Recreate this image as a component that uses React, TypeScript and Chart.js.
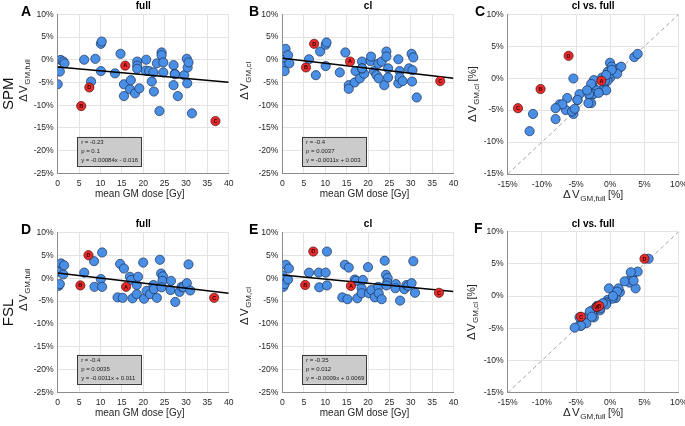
import React, { useEffect, useRef } from 'react';
import { Chart, registerables } from 'chart.js';

Chart.register(...registerables);

const FONT = "'Liberation Sans', Arial, Helvetica, sans-serif";
const INK = '#262626';

// ---------------- tick labels ----------------
const doseTicks = [0, 5, 10, 15, 20, 25, 30, 35, 40];
const pctTicks = [-25, -20, -15, -10, -5, 0, 5, 10];
const cmpTicks = [-15, -10, -5, 0, 5, 10];

// ---------------- SPM (x = mean GM dose [Gy], y = ΔV [%]) ----------------
const spmDose = [0.0, 0.2, 0.5, 0.7, 1.3, 1.6, 6.2, 7.8, 8.8, 10.1, 10.3, 10.1, 13.4, 14.7, 15.5, 15.5, 16.9, 17.1, 18.1, 19.1, 18.6, 18.6, 18.6, 20.6, 20.7, 21.4, 22.0, 22.4, 22.5, 23.2, 23.8, 24.3, 24.3, 24.7, 24.7, 27.1, 27.1, 27.4, 27.4, 28.1, 29.6, 30.2, 30.3, 30.4, 30.6, 31.4];
const spmFull = [-5.4, -2.5, -2.6, -0.05, -0.4, -0.8, 0.0, -4.8, 0.2, 3.5, 4.0, -2.5, -3.0, 1.3, -5.4, -8.0, -6.5, -4.5, -7.4, -6.3, -0.4, -1.3, -2.0, -2.4, 0.0, -2.5, -4.8, -2.8, -7.0, -0.8, -11.3, 1.6, 1.0, -0.6, -2.8, -1.2, -5.6, -3.1, -3.2, -8.0, -3.4, 0.2, -5.2, -1.7, -0.6, -11.8];
const spmCl = [-0.05, -1.5, -2.5, 2.4, 1.0, -0.8, 0.1, -3.4, 1.8, 3.3, 3.8, -1.4, -2.8, 1.6, -5.6, -6.4, -5.0, -2.5, -4.1, -3.1, -0.4, -1.9, -1.9, -0.3, 0.7, -2.5, -3.4, -0.9, -4.1, -0.4, -5.6, 1.8, 0.7, -1.9, -3.9, 0.1, -5.2, -2.5, -3.9, -4.7, -1.9, 1.3, -4.8, -2.3, 0.5, -8.3];

// highlighted subjects
const caseLabels = ['A', 'B', 'C', 'D'];
const spmCaseDose = [15.8, 5.5, 36.9, 7.4];
const spmCaseFull = [-1.3, -10.2, -13.5, -6.1];
const spmCaseCl = [-0.4, -1.7, -4.7, 3.5];

// ---------------- FSL ----------------
const fslDose = [0.0, 0.2, 0.5, 0.8, 1.3, 1.5, 6.2, 8.5, 8.6, 10.1, 10.4, 10.4, 14.0, 14.6, 15.2, 15.5, 16.9, 17.2, 17.5, 18.5, 18.5, 18.8, 20.0, 20.2, 20.8, 21.6, 22.4, 22.5, 23.2, 23.9, 24.2, 24.6, 24.5, 24.3, 26.5, 26.4, 27.5, 28.5, 29.0, 29.4, 30.2, 30.6, 31.0];
const fslFull = [1.4, -1.7, -1.3, 3.2, 0.8, 2.8, 1.2, 3.7, -1.9, -0.2, 5.6, -1.9, -4.2, 3.1, -4.3, 2.1, 0.3, -0.4, -4.4, -1.5, -3.5, 0.3, 3.4, -4.5, -2.8, -3.5, -1.5, -2.4, -4.3, 4.0, 1.0, 0.4, -0.6, -2.0, -0.6, -2.6, -5.2, -3.0, -1.9, -2.0, -1.1, 3.0, -2.7];
const fslCl = [0.6, -1.9, -1.3, 2.9, -0.3, 2.1, 1.2, 1.2, -2.0, 1.2, 5.8, -1.6, -4.2, 2.9, -4.6, 2.3, -0.3, -0.6, -4.4, -2.2, -3.3, -0.4, 2.4, -3.3, -2.6, -4.2, -1.9, -3.3, -4.6, 3.8, 0.7, 0.0, -1.0, -1.6, -1.3, -2.2, -4.9, -2.4, -1.5, -1.7, -1.1, 3.7, -3.2];

const fslCaseDose = [16.0, 5.3, 36.6, 7.2];
const fslCaseFull = [-1.9, -1.6, -4.3, 5.0];
const fslCaseCl = [-1.7, -1.5, -3.2, 5.8];

// ---------------- linear fits (panels A, B, D, E) ----------------
const fitR = [-0.23, -0.4, -0.4, -0.35];
const fitP = [0.1, 0.0037, 0.0035, 0.012];
const fitSlope = [-0.00084, -0.0011, -0.0011, -0.0009];
const fitIntercept = [-0.016, 0.003, 0.011, 0.0069];

// ---------------- styles ----------------
const BLUE = '#4a8fe6';
const BLUE_EDGE = '#1b2f52';
const RED = '#ea2b2b';
const RED_EDGE = '#4a0b0b';
const TICK_SIZE = 8.6;

type Part = { t: string; size: number; dy?: number; gap?: number; weight?: string };

function setFont(ctx: CanvasRenderingContext2D, p: Part) {
  ctx.font = `${p.weight || 'normal'} ${p.size}px ${FONT}`;
}
function measureParts(ctx: CanvasRenderingContext2D, parts: Part[]) {
  let w = 0;
  for (const p of parts) {
    setFont(ctx, p);
    w += ctx.measureText(p.t).width + (p.gap || 0);
  }
  return w;
}
function drawParts(ctx: CanvasRenderingContext2D, parts: Part[], x: number, y: number) {
  let cx = x;
  ctx.textAlign = 'left';
  ctx.textBaseline = 'alphabetic';
  for (const p of parts) {
    setFont(ctx, p);
    ctx.fillText(p.t, cx, y + (p.dy || 0));
    cx += ctx.measureText(p.t).width + (p.gap || 0);
  }
}
function deltaV(sub: string, unit: boolean): Part[] {
  const parts: Part[] = [
    { t: 'Δ', size: 11.5, gap: 1.2 },
    { t: 'V', size: 11.5, gap: 0.6 },
    { t: sub, size: 8, dy: 3, gap: unit ? 2.5 : 0 },
  ];
  if (unit) parts.push({ t: '[%]', size: 10.5 });
  return parts;
}

interface Spec {
  letter: string;
  title: string;
  kind: 'dose' | 'cmp';
  plot: { l: number; t: number; r: number; b: number };
  xs: number[];
  ys: number[];
  rx: number[];
  ry: number[];
  fit: number;
  rowLabel?: string;
  ySub: string;
  yUnit: boolean;
  yLabDx: number;
  yLabDy: number | null;
  letterDx: number;
}

const specs: Spec[] = [
  { letter: 'A', title: 'full', kind: 'dose', plot: { l: 57.7, t: 14.3, r: 228.7, b: 173.3 }, xs: spmDose, ys: spmFull, rx: spmCaseDose, ry: spmCaseFull, fit: 0, rowLabel: 'SPM', ySub: 'GM,full', yUnit: false, yLabDx: 30.4, yLabDy: 8, letterDx: 36.7 },
  { letter: 'B', title: 'cl', kind: 'dose', plot: { l: 282.5, t: 14.3, r: 453.5, b: 173.3 }, xs: spmDose, ys: spmCl, rx: spmCaseDose, ry: spmCaseCl, fit: 1, ySub: 'GM,cl', yUnit: false, yLabDx: 35, yLabDy: 6, letterDx: 33.5 },
  { letter: 'C', title: 'cl vs. full', kind: 'cmp', plot: { l: 507.7, t: 14.3, r: 678.7, b: 174 }, xs: spmFull, ys: spmCl, rx: spmCaseFull, ry: spmCaseCl, fit: -1, ySub: 'GM,cl', yUnit: true, yLabDx: 32, yLabDy: null, letterDx: 32.7 },
  { letter: 'D', title: 'full', kind: 'dose', plot: { l: 57.7, t: 232.3, r: 228.7, b: 392.7 }, xs: fslDose, ys: fslFull, rx: fslCaseDose, ry: fslCaseFull, fit: 2, rowLabel: 'FSL', ySub: 'GM,full', yUnit: false, yLabDx: 30.4, yLabDy: -1.5, letterDx: 36.7 },
  { letter: 'E', title: 'cl', kind: 'dose', plot: { l: 282.5, t: 232.3, r: 453.5, b: 392.7 }, xs: fslDose, ys: fslCl, rx: fslCaseDose, ry: fslCaseCl, fit: 3, ySub: 'GM,cl', yUnit: false, yLabDx: 35, yLabDy: 12.5, letterDx: 33.5 },
  { letter: 'F', title: 'cl vs. full', kind: 'cmp', plot: { l: 507.7, t: 231.7, r: 678.7, b: 392.7 }, xs: fslFull, ys: fslCl, rx: fslCaseFull, ry: fslCaseCl, fit: -1, ySub: 'GM,cl', yUnit: true, yLabDx: 33, yLabDy: null, letterDx: 33.7 },
];

function geometry(spec: Spec) {
  const cl = Math.floor(spec.plot.l - 58);
  const ct = Math.floor(spec.plot.t - 15);
  const w = Math.ceil(spec.plot.r + 16 - cl);
  const h = Math.ceil(spec.plot.b + 34 - ct);
  return { cl, ct, w, h };
}

function decorPlugin(spec: Spec) {
  return {
    id: 'decor' + spec.letter,
    afterDatasetsDraw(chart: any) {
      const ctx: CanvasRenderingContext2D = chart.ctx;
      const meta = chart.getDatasetMeta(2);
      ctx.save();
      ctx.fillStyle = '#2a0000';
      ctx.font = `bold 5.5px ${FONT}`;
      ctx.textAlign = 'center';
      ctx.textBaseline = 'middle';
      meta.data.forEach((el: any, i: number) => {
        ctx.fillText(caseLabels[i], el.x, el.y + 0.3);
      });
      ctx.restore();
    },
    afterDraw(chart: any) {
      const ctx: CanvasRenderingContext2D = chart.ctx;
      const ca = chart.chartArea;
      const cx = (ca.left + ca.right) / 2;
      const cy = (ca.top + ca.bottom) / 2;
      ctx.save();
      // panel letter
      ctx.fillStyle = '#000';
      ctx.font = `bold 14px ${FONT}`;
      ctx.textAlign = 'left';
      ctx.textBaseline = 'alphabetic';
      ctx.fillText(spec.letter, ca.left - spec.letterDx, ca.top + 1.6);
      // title
      ctx.font = `bold 10px ${FONT}`;
      ctx.textAlign = 'center';
      ctx.fillText(spec.title, cx, ca.top - 5);
      // row label
      if (spec.rowLabel) {
        ctx.save();
        ctx.translate(ca.left - 44.4, cy);
        ctx.rotate(-Math.PI / 2);
        ctx.font = `normal 15px ${FONT}`;
        ctx.textAlign = 'center';
        ctx.textBaseline = 'alphabetic';
        ctx.fillStyle = '#111';
        ctx.fillText(spec.rowLabel, 0, 0);
        ctx.restore();
      }
      ctx.fillStyle = INK;
      // y label
      const yParts = deltaV(spec.ySub, spec.yUnit);
      const yw = measureParts(ctx, yParts);
      const yBottom = spec.yLabDy === null ? cy + yw / 2 : cy + spec.yLabDy;
      ctx.save();
      ctx.translate(ca.left - spec.yLabDx, yBottom);
      ctx.rotate(-Math.PI / 2);
      drawParts(ctx, yParts, 0, 0);
      ctx.restore();
      // x label
      if (spec.kind === 'dose') {
        ctx.font = `normal 10px ${FONT}`;
        ctx.textAlign = 'center';
        ctx.textBaseline = 'middle';
        ctx.fillText('mean GM dose [Gy]', cx - 3.5, ca.bottom + 20.5);
      } else {
        const xParts = deltaV('GM,full', true);
        const xw = measureParts(ctx, xParts);
        drawParts(ctx, xParts, cx - xw / 2, ca.bottom + 23.5);
      }
      // stats box
      if (spec.fit >= 0) {
        const k = spec.fit;
        const bx = ca.left + 19.5;
        const by = ca.top + 122.5;
        const bw = 64;
        const bh = 29;
        ctx.fillStyle = '#cbcbcb';
        ctx.fillRect(bx, by, bw, bh);
        ctx.strokeStyle = '#3a3a3a';
        ctx.lineWidth = 1;
        ctx.strokeRect(Math.round(bx) + 0.5, Math.round(by) + 0.5, bw, bh);
        const b = fitIntercept[k];
        const lines = [
          `r = ${fitR[k]}`,
          `p = ${fitP[k]}`,
          `y = ${fitSlope[k]}x ${b < 0 ? '-' : '+'} ${Math.abs(b)}`,
        ];
        ctx.fillStyle = '#222';
        ctx.font = `normal 6px ${FONT}`;
        ctx.textAlign = 'left';
        ctx.textBaseline = 'middle';
        lines.forEach((s, i) => ctx.fillText(s, bx + 4, by + 5.8 + i * 9.1));
      }
      ctx.restore();
    },
  };
}

function buildConfig(spec: Spec) {
  const g = geometry(spec);
  const isDose = spec.kind === 'dose';
  const xTicks = isDose ? doseTicks : cmpTicks;
  const yTicks = isDose ? pctTicks : cmpTicks;
  const datasets: any[] = [];
  datasets.push({
    data: spec.xs.map((x, i) => ({ x, y: spec.ys[i] })),
    backgroundColor: BLUE,
    borderColor: BLUE_EDGE,
    borderWidth: 0.7,
    pointRadius: 4.6,
    order: 2,
  });
  if (isDose) {
    const k = spec.fit;
    datasets.push({
      data: [doseTicks[0], doseTicks[doseTicks.length - 1]].map((x) => ({ x, y: (fitSlope[k] * x + fitIntercept[k]) * 100 })),
      showLine: true,
      borderColor: '#000',
      borderWidth: 1.5,
      pointRadius: 0,
      order: 1,
    });
  } else {
    datasets.push({
      data: [cmpTicks[0], cmpTicks[cmpTicks.length - 1]].map((v) => ({ x: v, y: v })),
      showLine: true,
      borderColor: '#9c9c9c',
      borderWidth: 0.9,
      borderDash: [4, 3],
      pointRadius: 0,
      order: 3,
    });
  }
  datasets.push({
    data: spec.rx.map((x, i) => ({ x, y: spec.ry[i] })),
    backgroundColor: RED,
    borderColor: RED_EDGE,
    borderWidth: 0.7,
    pointRadius: 4.6,
    order: 0,
  });

  const tickFont = { family: FONT, size: TICK_SIZE };
  const grid = { color: '#e3e3e3', lineWidth: 1, drawTicks: false };
  const border = { display: true, color: '#8c8c8c', width: 1 };

  return {
    type: 'scatter' as const,
    data: { datasets },
    options: {
      responsive: false,
      maintainAspectRatio: false,
      devicePixelRatio: 1,
      animation: false as const,
      events: [],
      layout: {
        padding: {
          left: 0,
          top: spec.plot.t - g.ct,
          right: g.cl + g.w - spec.plot.r,
          bottom: 0,
        },
      },
      plugins: {
        legend: { display: false },
        tooltip: { enabled: false },
        title: { display: false },
      },
      scales: {
        x: {
          type: 'linear' as const,
          min: xTicks[0],
          max: xTicks[xTicks.length - 1],
          afterBuildTicks: (s: any) => {
            s.ticks = xTicks.map((v) => ({ value: v }));
          },
          afterFit: (s: any) => {
            s.height = g.ct + g.h - spec.plot.b;
          },
          ticks: {
            font: tickFont,
            color: INK,
            padding: 5,
            maxRotation: 0,
            autoSkip: false,
            callback: (v: any) => (isDose ? `${v}` : `${v}%`),
          },
          grid,
          border,
        },
        y: {
          type: 'linear' as const,
          min: yTicks[0],
          max: yTicks[yTicks.length - 1],
          afterBuildTicks: (s: any) => {
            s.ticks = yTicks.map((v) => ({ value: v }));
          },
          afterFit: (s: any) => {
            s.width = spec.plot.l - g.cl;
          },
          ticks: {
            font: tickFont,
            color: INK,
            padding: 4,
            autoSkip: false,
            callback: (v: any) => `${v}%`,
          },
          grid,
          border,
        },
      },
    },
    plugins: [decorPlugin(spec)],
  };
}

function Panel({ spec }: { spec: Spec }) {
  const ref = useRef<HTMLCanvasElement>(null);
  const g = geometry(spec);
  useEffect(() => {
    if (!ref.current) return;
    const chart = new Chart(ref.current, buildConfig(spec) as any);
    return () => chart.destroy();
  }, []);
  return (
    <canvas
      ref={ref}
      width={g.w}
      height={g.h}
      style={{ position: 'absolute', left: g.cl, top: g.ct, width: g.w, height: g.h }}
    />
  );
}

export default function App() {
  return (
    <div
      style={{
        position: 'absolute',
        left: 0,
        top: 0,
        width: 685,
        height: 426,
        overflow: 'hidden',
        background: '#fff',
      }}
    >
      {specs.map((s) => (
        <Panel key={s.letter} spec={s} />
      ))}
    </div>
  );
}
